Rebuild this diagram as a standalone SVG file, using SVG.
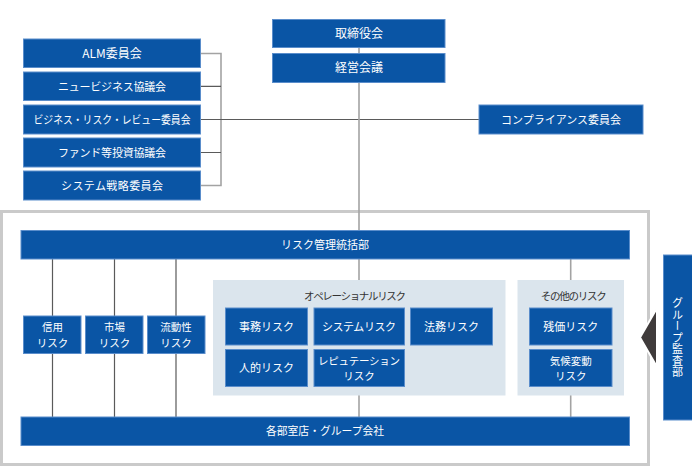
<svg xmlns="http://www.w3.org/2000/svg" width="692" height="466" viewBox="0 0 692 466">
<style>
.b{fill:#0a55a5;stroke:#5a8dcb;stroke-width:1}
.t{fill:#fff;font-family:"Noto Sans CJK JP","Noto Sans",sans-serif;font-size:11px;text-anchor:middle}
.L{font-size:12px}
.m{font-size:10.5px}
.h{fill:#333;font-family:"Noto Sans CJK JP","Noto Sans",sans-serif;font-size:10.5px;text-anchor:middle}
.p{fill:#dbe5ed}
.c{stroke:#5a5a5a;stroke-width:1.2;fill:none}
.g{stroke:#a3a3a3;stroke-width:1.6;fill:none}
</style>
<rect x="0" y="0" width="692" height="466" fill="#fff"/>
<rect x="1.5" y="211.5" width="647" height="253" fill="none" stroke="#cacaca" stroke-width="3"/>
<g id="connectors">
<path class="g" d="M200 53.5H221V185.5H200"/>
<path class="c" d="M200 86.3H221M200 152.5H221M200 119.5H479"/>
<path class="g" d="M359 47V231M359 259V280M359 395V417M570.7 259V280M570.7 395V417"/>
<path class="c" d="M52.5 259V417M114.5 259V417M176 259V417"/>
</g>
<g id="board"><rect class="b" x="272.5" y="19.5" width="172.5" height="28"/><text class="t L" x="359" y="37.5">取締役会</text></g>
<g id="exec"><rect class="b" x="272.5" y="53.5" width="172.5" height="29"/><text class="t L" x="359" y="72">経営会議</text></g>
<g id="alm"><rect class="b" x="23.5" y="39" width="177" height="28.5"/><text class="t L" x="112" y="57.5">ALM委員会</text></g>
<g id="newbiz"><rect class="b" x="23.5" y="72" width="177" height="28.5"/><text class="t" x="112" y="90.5" textLength="108">ニュービジネス協議会</text></g>
<g id="brr"><rect class="b" x="23.5" y="105" width="177" height="29"/><text class="t" x="112" y="123.5" textLength="157" lengthAdjust="spacingAndGlyphs">ビジネス・リスク・レビュー委員会</text></g>
<g id="fund"><rect class="b" x="23.5" y="138" width="177" height="29"/><text class="t" x="112" y="156.5" textLength="108">ファンド等投資協議会</text></g>
<g id="system"><rect class="b" x="23.5" y="171" width="177" height="29"/><text class="t" x="112" y="189.5" textLength="102">システム戦略委員会</text></g>
<g id="compliance"><rect class="b" x="479" y="105" width="164" height="29"/><text class="t" x="561" y="123.5" textLength="120">コンプライアンス委員会</text></g>
<g id="riskmgmt"><rect class="b" x="21" y="230.5" width="608.5" height="28.5"/><text class="t" x="325" y="248.5">リスク管理統括部</text></g>
<g id="branches"><rect class="b" x="21" y="417" width="608.5" height="28.5"/><text class="t" x="325" y="435" textLength="118" lengthAdjust="spacingAndGlyphs">各部室店・グループ会社</text></g>
<g id="credit"><rect class="b" x="23.5" y="316" width="57.5" height="37.5"/><text class="t m" x="52.5" y="331">信用</text><text class="t m" x="52.5" y="346.5">リスク</text></g>
<g id="market"><rect class="b" x="85.5" y="316" width="57.5" height="37.5"/><text class="t m" x="114.5" y="331">市場</text><text class="t m" x="114.5" y="346.5">リスク</text></g>
<g id="liquidity"><rect class="b" x="147.5" y="316" width="57.5" height="37.5"/><text class="t m" x="176" y="331">流動性</text><text class="t m" x="176" y="346.5">リスク</text></g>
<g id="operational">
<rect class="p" x="213" y="280" width="292.5" height="115.5"/>
<text class="h" x="355" y="299.5" textLength="102">オペレーショナルリスク</text>
</g>
<g id="jimu"><rect class="b" x="225.5" y="308" width="82" height="37"/><text class="t" x="266.5" y="330.5">事務リスク</text></g>
<g id="sysrisk"><rect class="b" x="314" y="308" width="90.5" height="37"/><text class="t" x="359" y="330.5" textLength="74">システムリスク</text></g>
<g id="legal"><rect class="b" x="410.5" y="308" width="82" height="37"/><text class="t" x="451.5" y="330.5">法務リスク</text></g>
<g id="human"><rect class="b" x="225.5" y="349.5" width="82" height="37"/><text class="t" x="266.5" y="372">人的リスク</text></g>
<g id="reputation"><rect class="b" x="314" y="349.5" width="90.5" height="37"/><text class="t m" x="359" y="364.5" textLength="82">レピュテーション</text><text class="t m" x="359" y="380">リスク</text></g>
<g id="other">
<rect class="p" x="517.5" y="280" width="106.5" height="115.5"/>
<text class="h" x="573.7" y="299.5" textLength="66">その他のリスク</text>
</g>
<g id="residual"><rect class="b" x="529.5" y="308" width="82.5" height="37"/><text class="t" x="570.7" y="330.5">残価リスク</text></g>
<g id="climate"><rect class="b" x="529.5" y="349.5" width="82.5" height="37"/><text class="t m" x="570.7" y="364.5">気候変動</text><text class="t m" x="570.7" y="380">リスク</text></g>
<g id="audit">
<rect class="b" x="663.5" y="255" width="30" height="165"/>
<text class="t" x="677.5" y="338" writing-mode="vertical-rl" style="writing-mode:vertical-rl" letter-spacing="0.5">グループ監査部</text>
</g>
<polygon points="657,308 640,337.5 657,367" fill="#3f3b3b" stroke="#fff" stroke-width="2" stroke-linejoin="miter"/>
</svg>
